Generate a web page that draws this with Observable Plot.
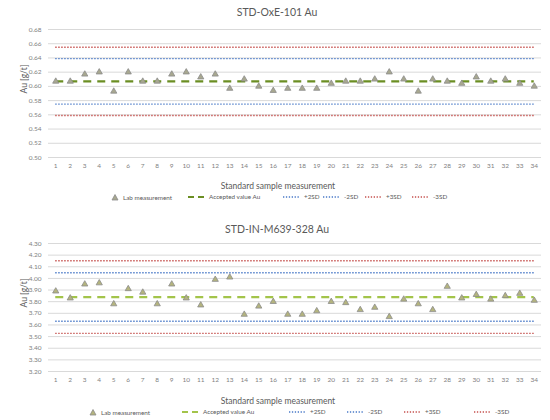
<!DOCTYPE html>
<html>
<head>
<meta charset="utf-8">
<script src="https://cdn.jsdelivr.net/npm/d3@7"></script>
<script src="https://cdn.jsdelivr.net/npm/@observablehq/plot@0.6"></script>
<style>
  body { margin: 0; background: #fff; font-family: Lato, "Noto Sans", sans-serif; }
  .chart { position: relative; width: 550px; height: 210px; }
  .title { position: absolute; left: 0; width: 554px; text-align: center; font-size: 10.5px; color: #595959; }
  .xtitle { position: absolute; left: 0; width: 556px; text-align: center; font-size: 8.5px; color: #595959; }
  .leg { position: absolute; font-size: 6.3px; color: #595959; display: flex; align-items: center; white-space: nowrap; }
  .leg svg { margin-right: 4px; }
</style>
</head>
<body>
<div id="root"></div>
<script>
const samples = [1,2,3,4,5,6,7,8,9,10,11,12,13,14,15,16,17,18,19,20,21,22,23,24,25,26,27,28,29,30,31,32,33,34];

const oxeValues = [0.607,0.607,0.617,0.620,0.593,0.620,0.607,0.607,0.617,0.620,0.613,0.617,0.597,0.610,0.600,0.594,
  0.597,0.597,0.597,0.604,0.607,0.607,0.610,0.620,0.610,0.593,0.610,0.607,0.604,0.613,0.607,0.610,0.604,0.600];
const inValues = [3.89,3.83,3.95,3.96,3.78,3.91,3.88,3.78,3.95,3.83,3.77,3.99,4.01,3.69,3.76,3.80,
  3.69,3.69,3.72,3.80,3.79,3.73,3.75,3.67,3.82,3.78,3.73,3.93,3.83,3.86,3.82,3.85,3.87,3.81];

const levelNames = ["Accepted value Au", "+2SD", "-2SD", "+3SD", "-3SD"];
const oxeLevels = [0.607, 0.639, 0.575, 0.655, 0.559];
const inLevels = [3.84, 4.048, 3.632, 4.152, 3.528];

const oxeTicks = [0.50,0.52,0.54,0.56,0.58,0.60,0.62,0.64,0.66,0.68];
const inTicks = [3.20,3.30,3.40,3.50,3.60,3.70,3.80,3.90,4.00,4.10,4.20,4.30];

const blue = "#4a7ac8", red = "#c5504d";

function makeChart(cfg) {
  const wrap = document.createElement("div");
  wrap.className = "chart";
  const levelColors = [cfg.acceptColor, blue, blue, red, red];
  const rows = samples.map((s, i) => ({s, v: cfg.values[i]}));
  const marks = [
    Plot.gridY(cfg.ticks, {stroke: "#d9d9d9", strokeOpacity: 1, strokeWidth: 1}),
    Plot.axisY(cfg.ticks, {tickSize: 0, tickPadding: 7, tickFormat: d3.format(".2f"), fontSize: 6.5, fill: "#7f7f7f", label: null}),
    Plot.axisX(samples, {tickSize: 0, tickPadding: 6, fontSize: 6.5, fill: "#7f7f7f", label: null}),
    Plot.text(["Au [g/t]"], {frameAnchor: "left", rotate: -90, dx: -24, fontSize: 8.5, fill: "#595959"})
  ];
  cfg.levels.forEach((lv, i) => {
    marks.push(Plot.ruleY([lv], {
      x1: samples[0], x2: samples[samples.length - 1],
      stroke: levelColors[i],
      strokeWidth: i === 0 ? 2.2 : 1.4,
      strokeDasharray: i === 0 ? "8,6" : "1.4,1.6"
    }));
  });
  marks.push(Plot.dot(rows, {x: "s", y: "v", symbol: "triangle", r: 2.3, fill: cfg.markFill, stroke: "#8c8c8c", strokeWidth: 0.8}));
  const svg = Plot.plot({
    width: 550, height: 210,
    marginLeft: 48, marginRight: 9, marginTop: cfg.mt, marginBottom: cfg.mb,
    style: {fontFamily: "Lato, 'Noto Sans', sans-serif", color: "#595959", fontSize: "8px", background: "#fff", overflow: "visible"},
    x: {domain: [0.5, 34.5]},
    y: {domain: cfg.domain},
    marks
  });
  wrap.appendChild(svg);
  const t = document.createElement("div");
  t.className = "title"; t.style.top = cfg.titleTop + "px"; t.textContent = cfg.title;
  wrap.appendChild(t);
  const xt = document.createElement("div");
  xt.className = "xtitle"; xt.style.top = cfg.xtitleTop + "px"; xt.textContent = "Standard sample measurement";
  wrap.appendChild(xt);
  const swatches = [
    `<svg width="8" height="8"><path d="M4,1.5 L7,7 L1,7 Z" fill="${cfg.markFill}" stroke="#8c8c8c" stroke-width="0.8"/></svg>`,
    `<svg width="17" height="6"><line x1="0" y1="3" x2="17" y2="3" stroke="${cfg.acceptColor}" stroke-width="2" stroke-dasharray="6,4"/></svg>`,
    `<svg width="17" height="6"><line x1="0" y1="3" x2="17" y2="3" stroke="${blue}" stroke-width="1.3" stroke-dasharray="1.3,1.6"/></svg>`,
    `<svg width="17" height="6"><line x1="0" y1="3" x2="17" y2="3" stroke="${blue}" stroke-width="1.3" stroke-dasharray="1.3,1.6"/></svg>`,
    `<svg width="17" height="6"><line x1="0" y1="3" x2="17" y2="3" stroke="${red}" stroke-width="1.3" stroke-dasharray="1.3,1.6"/></svg>`,
    `<svg width="17" height="6"><line x1="0" y1="3" x2="17" y2="3" stroke="${red}" stroke-width="1.3" stroke-dasharray="1.3,1.6"/></svg>`
  ];
  const labels = ["Lab measurement", ...levelNames];
  labels.forEach((lab, i) => {
    const d = document.createElement("div");
    d.className = "leg";
    d.style.left = cfg.legLeft[i] + "px";
    d.style.top = cfg.legTop + "px";
    d.innerHTML = swatches[i] + "<span>" + lab + "</span>";
    wrap.appendChild(d);
  });
  return wrap;
}

const root = document.getElementById("root");
root.appendChild(makeChart({
  title: "STD-OxE-101 Au", values: oxeValues, levels: oxeLevels, ticks: oxeTicks, domain: [0.50, 0.68],
  mt: 29, mb: 53, acceptColor: "#6b8e23", markFill: "#a8a890",
  titleTop: 6, xtitleTop: 181, legTop: 193,
  legLeft: [111, 188, 283, 323, 365, 412]
}));
root.appendChild(makeChart({
  title: "STD-IN-M639-328 Au", values: inValues, levels: inLevels, ticks: inTicks, domain: [3.20, 4.30],
  mt: 33, mb: 49, acceptColor: "#a3c44a", markFill: "#b4b47e",
  titleTop: 13, xtitleTop: 186, legTop: 198,
  legLeft: [89, 182, 289, 347, 404, 474]
}));
</script>
</body>
</html>
